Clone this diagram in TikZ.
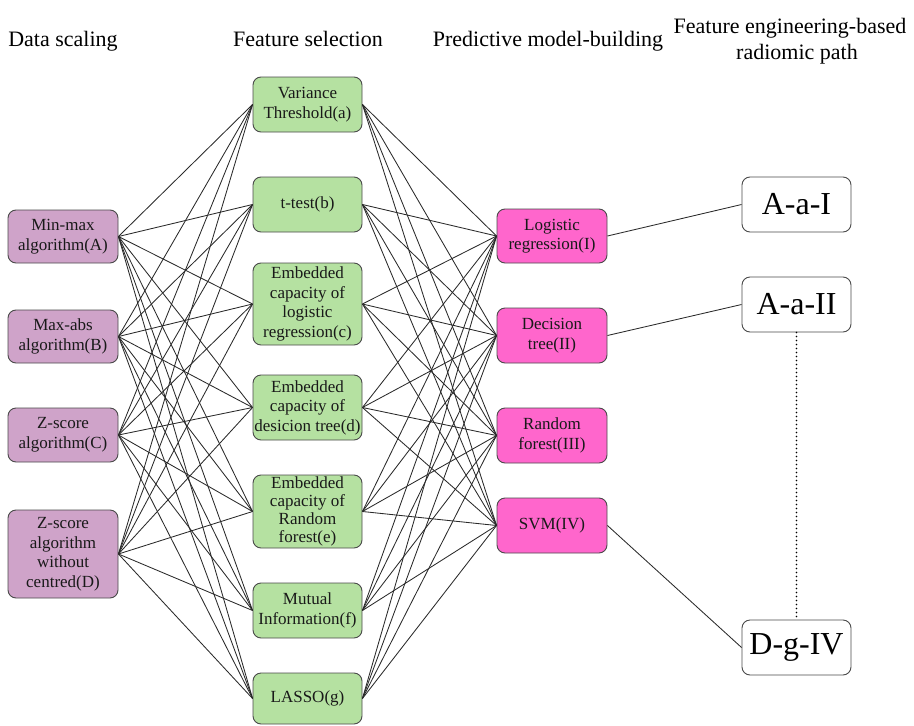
\documentclass[tikz,border=0pt]{standalone}
\usepackage{fontspec}
\setmainfont{Liberation Serif}
\newfontfamily\tnr{Liberation Serif}
\definecolor{purp}{HTML}{CFA3C9}
\definecolor{grn}{HTML}{B5E1A1}
\definecolor{pnk}{HTML}{FF66CC}
\definecolor{edgec}{HTML}{2A2A2A}
\definecolor{bord}{HTML}{4A4A4A}
\begin{document}
\begin{tikzpicture}[x=1pt,y=-1pt,
  box/.style={draw=bord, line width=0.9pt, rounded corners=8pt, inner sep=0pt,
    align=center, font=\tnr\fontsize{17}{19.5}\selectfont, text=black!90},
  scalebox/.style={box, fill=purp, minimum width=110pt},
  selbox/.style={box, fill=grn, minimum width=109pt},
  modbox/.style={box, fill=pnk, minimum width=110pt},
  pathbox/.style={box, fill=white, minimum width=109pt, minimum height=55pt,
    font=\tnr\fontsize{32}{36}\selectfont, text=black},
  head/.style={anchor=base, font=\tnr\fontsize{22}{26}\selectfont, inner sep=0pt},
  conn/.style={draw=edgec, line width=0.85pt}]
\useasboundingbox (0,0) rectangle (914,726);

% headers
\node[head] (h1) at (63,46) {Data scaling};
\node[head] (h2) at (308,46) {Feature selection};
\node[head] (h3) at (548,46) {Predictive model-building};
\node[head] (h4) at (790,33) {Feature engineering-based};
\node[head] (h5) at (797,59) {radiomic path};

% data scaling
\node[scalebox, minimum height=53pt] (A) at (63,236.5) {Min-max\\algorithm(A)};
\node[scalebox, minimum height=53pt] (B) at (63,336.5) {Max-abs\\algorithm(B)};
\node[scalebox, minimum height=54pt] (C) at (63,435) {Z-score\\algorithm(C)};
\node[scalebox, minimum height=88pt] (D) at (63,554) {Z-score\\algorithm\\without\\centred(D)};

% feature selection
\node[selbox, minimum height=55pt] (a) at (307.5,104.5) {Variance\\Threshold(a)};
\node[selbox, minimum height=55pt] (b) at (307.5,204.5) {t-test(b)};
\node[selbox, minimum height=82pt] (c) at (307.5,304) {Embedded\\capacity of\\logistic\\regression(c)};
\node[selbox, minimum height=65pt] (d) at (307.5,407.5) {Embedded\\capacity of\\desicion tree(d)};
\node[selbox, minimum height=73pt, font=\tnr\fontsize{17}{18}\selectfont] (e) at (307.5,511.5) {Embedded\\capacity of\\Random\\forest(e)};
\node[selbox, minimum height=55pt] (f) at (307.5,610.5) {Mutual\\Information(f)};
\node[selbox, minimum height=51pt] (g) at (307.5,698.5) {LASSO(g)};

% models
\node[modbox, minimum height=54pt] (I) at (552,236) {Logistic\\regression(I)};
\node[modbox, minimum height=55pt] (II) at (552,335.5) {Decision\\tree(II)};
\node[modbox, minimum height=55pt] (III) at (552,435.5) {Random\\forest(III)};
\node[modbox, minimum height=55pt] (IV) at (552,525.5) {SVM(IV)};

% paths
\node[pathbox] (p1) at (796.5,204.5) {A-a-I};
\node[pathbox] (p2) at (796.5,304.5) {A-a-II};
\node[pathbox] (p3) at (796.5,647.5) {D-g-IV};

% connectors
\foreach \s in {A,B,C,D}
  \foreach \t in {a,b,c,d,e,f,g}
    \draw[conn] (\s.east) -- (\t.west);
\foreach \s in {a,b,c,d,e,f,g}
  \foreach \t in {I,II,III,IV}
    \draw[conn] (\s.east) -- (\t.west);

\draw[conn] (I.east) -- (p1.west);
\draw[conn] (II.east) -- (p2.west);
\draw[conn] (IV.east) -- (p3.west);
\draw[draw=black, line width=1.8pt, line cap=round, dash pattern=on 0pt off 4pt] (p2.south) -- (p3.north);
\end{tikzpicture}
\end{document}
